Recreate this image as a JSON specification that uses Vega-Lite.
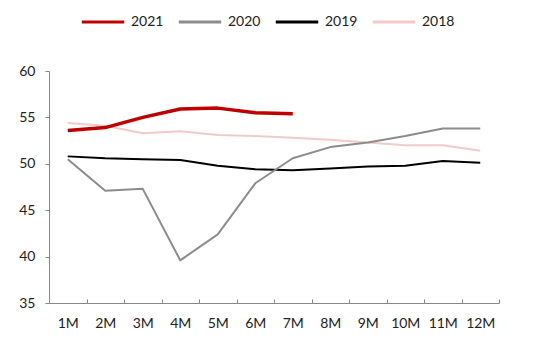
{
  "$schema": "https://vega.github.io/schema/vega-lite/v6.json",
  "autosize": {"type": "none"},
  "padding": {"left": 49, "top": 71, "right": 51, "bottom": 46},
  "width": 450,
  "height": 232,
  "background": "white",
  "config": {"view": {"stroke": null}, "font": "Lato"},
  "data": {"values": [
    {"m": "1M", "year": "2018", "v": 54.4}, {"m": "2M", "year": "2018", "v": 54.1}, {"m": "3M", "year": "2018", "v": 53.3}, {"m": "4M", "year": "2018", "v": 53.5}, {"m": "5M", "year": "2018", "v": 53.1}, {"m": "6M", "year": "2018", "v": 53.0}, {"m": "7M", "year": "2018", "v": 52.8}, {"m": "8M", "year": "2018", "v": 52.6}, {"m": "9M", "year": "2018", "v": 52.3}, {"m": "10M", "year": "2018", "v": 52.0}, {"m": "11M", "year": "2018", "v": 52.0}, {"m": "12M", "year": "2018", "v": 51.4},
    {"m": "1M", "year": "2019", "v": 50.8}, {"m": "2M", "year": "2019", "v": 50.6}, {"m": "3M", "year": "2019", "v": 50.5}, {"m": "4M", "year": "2019", "v": 50.4}, {"m": "5M", "year": "2019", "v": 49.8}, {"m": "6M", "year": "2019", "v": 49.4}, {"m": "7M", "year": "2019", "v": 49.3}, {"m": "8M", "year": "2019", "v": 49.5}, {"m": "9M", "year": "2019", "v": 49.7}, {"m": "10M", "year": "2019", "v": 49.8}, {"m": "11M", "year": "2019", "v": 50.3}, {"m": "12M", "year": "2019", "v": 50.1},
    {"m": "1M", "year": "2020", "v": 50.5}, {"m": "2M", "year": "2020", "v": 47.1}, {"m": "3M", "year": "2020", "v": 47.3}, {"m": "4M", "year": "2020", "v": 39.6}, {"m": "5M", "year": "2020", "v": 42.4}, {"m": "6M", "year": "2020", "v": 47.9}, {"m": "7M", "year": "2020", "v": 50.6}, {"m": "8M", "year": "2020", "v": 51.8}, {"m": "9M", "year": "2020", "v": 52.3}, {"m": "10M", "year": "2020", "v": 53.0}, {"m": "11M", "year": "2020", "v": 53.8}, {"m": "12M", "year": "2020", "v": 53.8},
    {"m": "1M", "year": "2021", "v": 53.6}, {"m": "2M", "year": "2021", "v": 53.9}, {"m": "3M", "year": "2021", "v": 55.0}, {"m": "4M", "year": "2021", "v": 55.9}, {"m": "5M", "year": "2021", "v": 56.0}, {"m": "6M", "year": "2021", "v": 55.5}, {"m": "7M", "year": "2021", "v": 55.4}
  ]},
  "encoding": {
    "x": {"field": "m", "type": "ordinal", "sort": ["1M","2M","3M","4M","5M","6M","7M","8M","9M","10M","11M","12M"],
      "scale": {"type": "band", "paddingInner": 0, "paddingOuter": 0},
      "axis": {"title": null, "labelAngle": 0, "labelFontSize": 14, "labelColor": "#222", "labelPadding": 17, "tickBand": "extent", "tickSize": -4, "domainColor": "#888", "tickColor": "#888", "grid": false}},
    "y": {"field": "v", "type": "quantitative", "scale": {"domain": [35, 60]},
      "axis": {"title": null, "values": [35,40,45,50,55,60], "labelFontSize": 14, "labelColor": "#222", "labelPadding": 10, "tickSize": 4, "domainColor": "#888", "tickColor": "#888", "grid": false}},
    "color": {"field": "year", "type": "nominal",
      "scale": {"domain": ["2021","2020","2019","2018"], "range": ["#C00000","#8C8C8C","#000000","#F2CACA"]},
      "legend": {"title": null, "orient": "none", "direction": "horizontal", "legendX": 31, "legendY": -72, "symbolType": "stroke", "symbolSize": 1800, "symbolStrokeWidth": 3, "labelFontSize": 14, "labelColor": "#222", "columnPadding": 8, "labelOffset": 5}}
  },
  "layer": [
    {"transform": [{"filter": "datum.year == '2018'"}], "mark": {"type": "line", "strokeWidth": 2, "strokeJoin": "round"}},
    {"transform": [{"filter": "datum.year == '2019'"}], "mark": {"type": "line", "strokeWidth": 2, "strokeJoin": "round"}},
    {"transform": [{"filter": "datum.year == '2020'"}], "mark": {"type": "line", "strokeWidth": 2, "strokeJoin": "round"}},
    {"transform": [{"filter": "datum.year == '2021'"}], "mark": {"type": "line", "strokeWidth": 3.5, "strokeJoin": "round"}}
  ]
}
